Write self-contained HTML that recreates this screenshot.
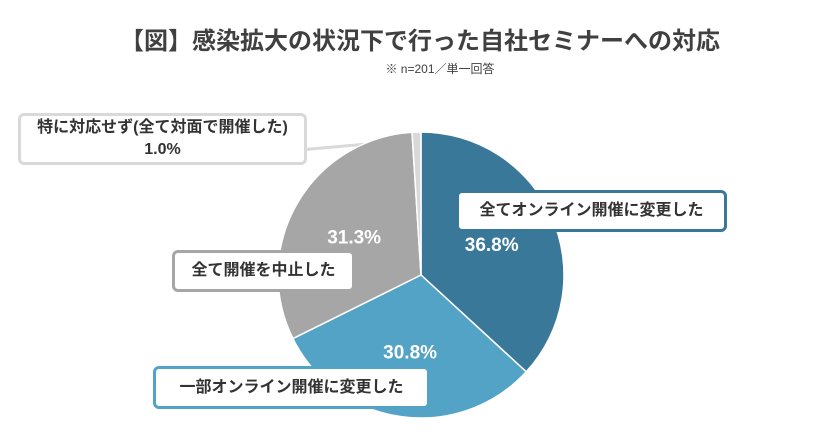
<!DOCTYPE html>
<html><head><meta charset="utf-8">
<style>
body{margin:0;width:840px;height:440px;background:#fff;overflow:hidden;font-family:"Liberation Sans","Noto Sans CJK JP",sans-serif;}
.title{position:absolute;left:0;width:840px;top:21px;text-align:center;font-size:24px;font-weight:bold;color:#404040;}
.sub{position:absolute;left:0;width:840px;top:60px;text-align:center;font-size:12px;color:#404040;padding-left:40px;box-sizing:border-box}
.box{position:absolute;background:#fff;border-radius:6px;border:3px solid;box-sizing:border-box;font-size:16px;font-weight:bold;color:#333;display:flex;align-items:center;justify-content:center;text-align:center;line-height:22px;}
</style></head><body>
<div class="title">【図】感染拡大の状況下で行った自社セミナーへの対応</div>
<div class="sub">※ n=201／単一回答</div>
<svg id="pie" width="840" height="440" style="position:absolute;left:0;top:0"></svg>
<div class="box" style="left:456px;top:190px;width:271px;height:42px;border-color:#3a7899">全てオンライン開催に変更した</div>
<div class="box" style="left:172px;top:250px;width:183px;height:42px;border-color:#a6a6a6">全て開催を中止した</div>
<div class="box" style="left:153px;top:366px;width:277px;height:43px;border-color:#52a3c6">一部オンライン開催に変更した</div>
<div class="box" style="left:18px;top:113px;width:289px;height:52px;border-color:#d9d9d9">特に対応せず(全て対面で開催した)<br>1.0%</div>
<script>
const categories=["全てオンライン開催に変更した","一部オンライン開催に変更した","全て開催を中止した","特に対応せず(全て対面で開催した)"];
const values=[36.8,30.8,31.3,1.0];
const valueLabels=["36.8%","30.8%","31.3%",""];
const colors=["#3a7899","#52a3c6","#a6a6a6","#d9d9d9"];
const svg=document.getElementById('pie');
const NS="http://www.w3.org/2000/svg";
const cx=421,cy=275,r=143;
const total=values.reduce((a,b)=>a+b,0);
const ln=document.createElementNS(NS,'polyline');
ln.setAttribute('points','300,150 412,140');
ln.setAttribute('stroke','#d9d9d9');ln.setAttribute('stroke-width','3');ln.setAttribute('fill','none');


svg.appendChild(ln);
function pt(a,rr){return [cx+rr*Math.sin(a),cy-rr*Math.cos(a)];}
let acc=0;
values.forEach((v,i)=>{
  const a0=acc/total*2*Math.PI; acc+=v; const a1=acc/total*2*Math.PI;
  const p0=pt(a0,r),p1=pt(a1,r);
  const path=document.createElementNS(NS,'path');
  path.setAttribute('d',`M${cx},${cy} L${p0[0]},${p0[1]} A${r},${r} 0 ${a1-a0>Math.PI?1:0} 1 ${p1[0]},${p1[1]} Z`);
  path.setAttribute('fill',colors[i]);path.setAttribute('stroke','#fff');path.setAttribute('stroke-width','1.5');
  
  
  svg.appendChild(path);
  if(valueLabels[i]){
    const m=(a0+a1)/2,lp=pt(m,r*0.54);
    const t=document.createElementNS(NS,'text');
    t.setAttribute('x',lp[0]);t.setAttribute('y',lp[1]+7);t.setAttribute('text-anchor','middle');
    t.setAttribute('fill','#fff');t.setAttribute('font-size','19');t.setAttribute('font-weight','bold');
    t.setAttribute('font-family','"Liberation Sans",sans-serif');
    t.textContent=valueLabels[i];
    
    
    svg.appendChild(t);
  }
});
</script>
</body></html>
